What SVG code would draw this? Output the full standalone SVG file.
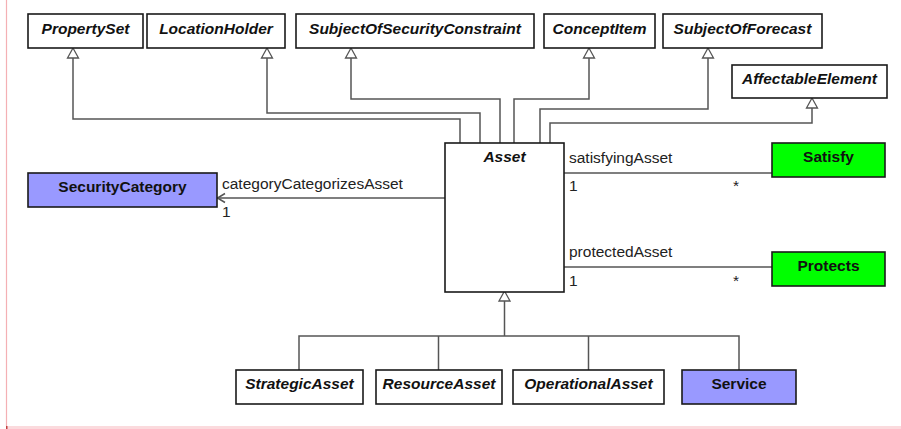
<svg xmlns="http://www.w3.org/2000/svg" width="901" height="429" viewBox="0 0 901 429">
<style>
.box{fill:#ffffff;stroke:#1a1a1a;stroke-width:1.6}
.blue{fill:#9999ff}
.green{fill:#00ff00}
.lbl{font-family:"Liberation Sans",Arial,sans-serif;font-size:15.5px;font-weight:bold;text-anchor:middle;fill:#111}
.it{font-style:italic}
.t{font-family:"Liberation Sans",Arial,sans-serif;font-size:15.5px;fill:#222}
.ln{fill:none;stroke:#555555;stroke-width:1.5}
.tri{fill:#ffffff;stroke:#555555;stroke-width:1.3}
</style>
<rect x="0" y="0" width="901" height="429" fill="#ffffff"/>
<line x1="6.5" y1="0" x2="6.5" y2="426" stroke="#f4b0b4" stroke-width="1.2"/>
<rect x="7" y="426" width="894" height="3" fill="#fbdadd"/>
<rect x="6" y="426" width="1.5" height="3" fill="#c04040"/>

<g id="connectors">
<polyline class="ln" points="73,58 73,119 460,119 460,143"/>
<polyline class="ln" points="267,58 267,113 480,113 480,143"/>
<polyline class="ln" points="351,58 351,99 500,99 500,143"/>
<polyline class="ln" points="589,58 589,99 514,99 514,143"/>
<polyline class="ln" points="708,58 708,109 540,109 540,143"/>
<polyline class="ln" points="812,108 812,123 550,123 550,143"/>
<polygon class="tri" points="73,48 67.5,58 78.5,58"/>
<polygon class="tri" points="267,48 261.5,58 272.5,58"/>
<polygon class="tri" points="351,48 345.5,58 356.5,58"/>
<polygon class="tri" points="589,48 583.5,58 594.5,58"/>
<polygon class="tri" points="708,48 702.5,58 713.5,58"/>
<polygon class="tri" points="812,98 806.5,108 817.5,108"/>
<line class="ln" x1="445" y1="198" x2="217" y2="198"/>
<polyline class="ln" points="225,193.5 217.5,198 225,202.5"/>
<text class="t" x="222" y="189">categoryCategorizesAsset</text>
<text class="t" x="222" y="217">1</text>
<line class="ln" x1="564" y1="173" x2="772" y2="173"/>
<text class="t" x="569" y="163">satisfyingAsset</text>
<text class="t" x="569" y="191">1</text>
<text class="t" x="733" y="191">*</text>
<line class="ln" x1="564" y1="267" x2="772" y2="267"/>
<text class="t" x="569" y="257">protectedAsset</text>
<text class="t" x="569" y="286">1</text>
<text class="t" x="733" y="286">*</text>
<line class="ln" x1="504.5" y1="301" x2="504.5" y2="336"/>
<polyline class="ln" points="299,370 299,336 739,336 739,370"/>
<line class="ln" x1="438.5" y1="336" x2="438.5" y2="370"/>
<line class="ln" x1="588.5" y1="336" x2="588.5" y2="370"/>
<polygon class="tri" points="504.5,291 499,301 510,301"/>
</g>

<g id="PropertySet"><rect class="box" x="28" y="14" width="115" height="34"/><text class="lbl it" x="85.5" y="34">PropertySet</text></g>
<g id="LocationHolder"><rect class="box" x="147" y="14" width="138" height="34"/><text class="lbl it" x="216" y="34">LocationHolder</text></g>
<g id="SubjectOfSecurityConstraint"><rect class="box" x="296" y="14" width="238" height="34"/><text class="lbl it" x="415" y="34">SubjectOfSecurityConstraint</text></g>
<g id="ConceptItem"><rect class="box" x="544" y="14" width="111" height="34"/><text class="lbl it" x="599.5" y="34">ConceptItem</text></g>
<g id="SubjectOfForecast"><rect class="box" x="663" y="14" width="159" height="34"/><text class="lbl it" x="742.5" y="34">SubjectOfForecast</text></g>
<g id="AffectableElement"><rect class="box" x="732" y="65" width="155" height="33"/><text class="lbl it" x="809.5" y="84">AffectableElement</text></g>
<g id="Asset"><rect class="box" x="445" y="143" width="119" height="149"/><text class="lbl it" x="504.5" y="162">Asset</text></g>
<g id="SecurityCategory"><rect class="box blue" x="28" y="173" width="189" height="34"/><text class="lbl" x="122.5" y="192">SecurityCategory</text></g>
<g id="Satisfy"><rect class="box green" x="772" y="143" width="113" height="34"/><text class="lbl" x="828.5" y="162">Satisfy</text></g>
<g id="Protects"><rect class="box green" x="772" y="252" width="113" height="34"/><text class="lbl" x="828.5" y="271">Protects</text></g>
<g id="StrategicAsset"><rect class="box" x="236" y="370" width="127" height="34"/><text class="lbl it" x="299.5" y="389">StrategicAsset</text></g>
<g id="ResourceAsset"><rect class="box" x="376" y="370" width="126" height="34"/><text class="lbl it" x="439" y="389">ResourceAsset</text></g>
<g id="OperationalAsset"><rect class="box" x="513" y="370" width="151" height="34"/><text class="lbl it" x="588.5" y="389">OperationalAsset</text></g>
<g id="Service"><rect class="box blue" x="682" y="370" width="114" height="34"/><text class="lbl" x="739" y="389">Service</text></g>
</svg>
